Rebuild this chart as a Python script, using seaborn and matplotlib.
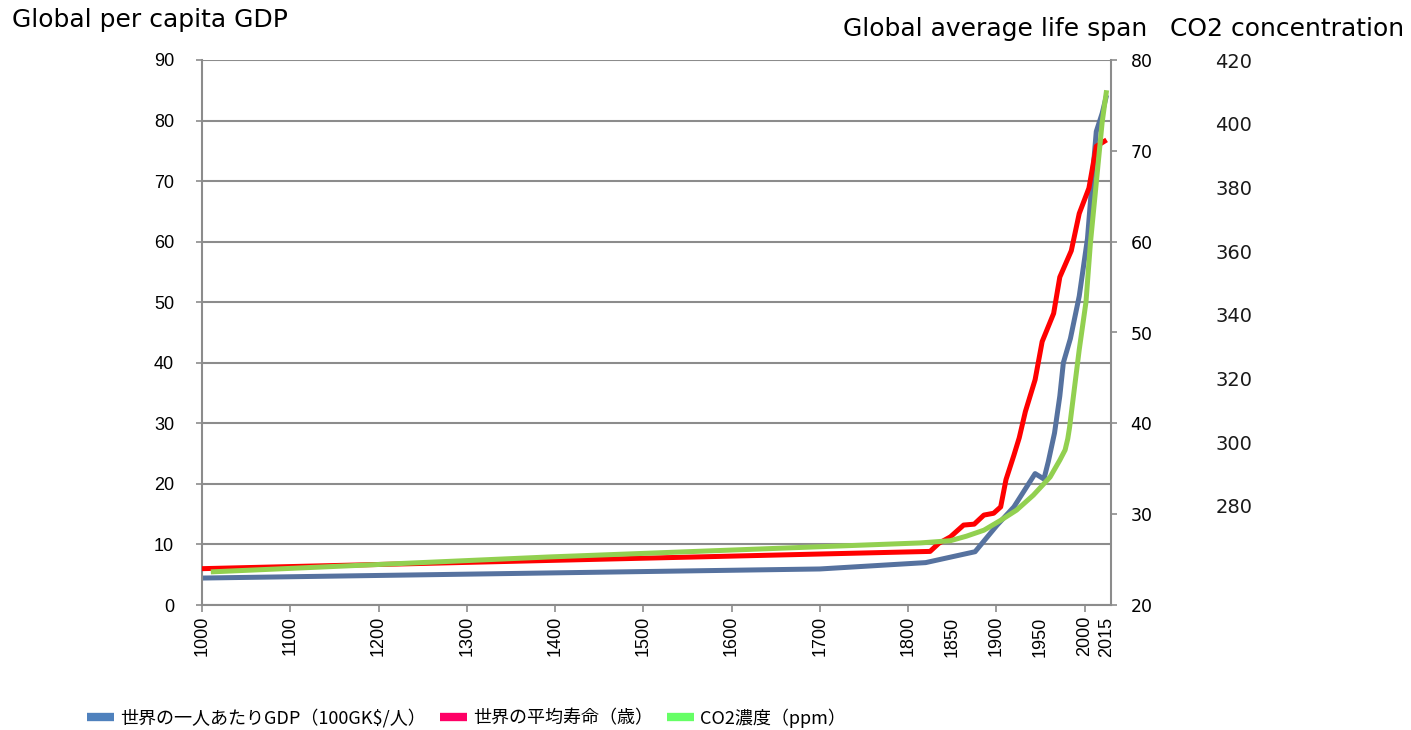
import numpy as np
import pandas as pd
import matplotlib
matplotlib.use("Agg")
import matplotlib.pyplot as plt
from matplotlib.lines import Line2D
import seaborn as sns

# values
gdp_year = [1000, 1700, 1820, 1848, 1876, 1901, 1920, 1944, 1954, 1959, 1966,
            1972, 1976, 1984, 1994, 2002, 2005, 2008, 2012, 2015]
gdp = [4.45, 5.95, 7.0, 7.9, 8.8, 13.2, 16.2, 21.7, 20.8, 23.7, 28.4,
       34.5, 40.0, 44.0, 51.0, 60.5, 69.6, 78.2, 81.2, 84.2]

life_year = [1000, 1825, 1835, 1848, 1863, 1875, 1886, 1897, 1905, 1911, 1920,
             1926, 1933, 1944, 1952, 1965, 1972, 1985, 1994, 2003, 2008, 2015]
life = [24.0, 25.9, 26.8, 27.5, 28.8, 28.9, 29.9, 30.1, 30.8, 33.8, 36.5,
        38.4, 41.3, 44.8, 49.0, 52.1, 56.1, 59.0, 63.1, 65.9, 70.5, 71.2]

co2_year = [1010, 1394, 1814, 1848, 1866, 1886, 1905, 1923, 1942, 1961, 1972,
            1978, 1981, 1983, 1985, 1994, 2001, 2004, 2008, 2012, 2015]
co2 = [259.2, 263.9, 268.3, 269.0, 270.4, 272.3, 275.4, 278.6, 283.3, 289.0, 294.3,
       297.5, 301.0, 304.5, 309.0, 329.0, 344.0, 362.5, 381.5, 400.5, 410.5]

x_major = [1000, 1100, 1200, 1300, 1400, 1500, 1600, 1700, 1800, 1900, 2000]
x_minor = [1850, 1950, 2015]
gdp_ticks = list(range(0, 91, 10))
life_ticks = list(range(20, 81, 10))
co2_ticks = list(range(280, 421, 20))

legend_labels = ["世界の一人あたりGDP（100GK$/人）", "世界の平均寿命（歳）", "CO2濃度（ppm）"]
axis_titles = ["Global per capita GDP", "Global average life span", "CO2 concentration"]

line_colors = ["#56729f", "#ff0000", "#92d050"]
legend_colors = ["#4f81bd", "#ff0066", "#66ff66"]
GRAY = "#8c8c8c"

# the source chart draws the years after 2000 wider than the rest
STRETCH = 5 / 3


def fwd(x):
    x = np.asarray(x, dtype=float)
    return np.where(x <= 2000, x, 2000 + (x - 2000) * STRETCH)


def inv(p):
    p = np.asarray(p, dtype=float)
    return np.where(p <= 2000, p, 2000 + (p - 2000) / STRETCH)


sns.set_theme(style="white")
plt.rcParams['font.family'] = ['DejaVu Sans', 'Noto Sans CJK JP']
plt.rcParams['text.color'] = 'black'

W, H = 1411, 730
fig = plt.figure(figsize=(W / 100, H / 100), dpi=100)
ax = fig.add_axes([202 / W, 125 / H, 909 / W, 545 / H])
ax.set_xscale('function', functions=(fwd, inv))
ax2 = ax.twinx()
ax3 = ax.twinx()

df_gdp = pd.DataFrame({"year": gdp_year, "value": gdp})
df_life = pd.DataFrame({"year": life_year, "value": life})
df_co2 = pd.DataFrame({"year": co2_year, "value": co2})

line_kw = dict(linewidth=3.6, solid_capstyle="butt", solid_joinstyle="round",
               estimator=None, legend=False)
sns.lineplot(data=df_gdp, x="year", y="value", ax=ax, color=line_colors[0], **line_kw)
sns.lineplot(data=df_life, x="year", y="value", ax=ax2, color=line_colors[1], **line_kw)
sns.lineplot(data=df_co2, x="year", y="value", ax=ax3, color=line_colors[2], **line_kw)

for a in (ax, ax2, ax3):
    a.set_xlabel("")
    a.set_ylabel("")

ax.set_xlim(1000, 2018)
ax.set_ylim(0, 90)
ax2.set_ylim(20, 80)
ax3.set_ylim(248.8, 420)

# x axis: tick marks at the centuries, extra labels without marks
ax.set_xticks(x_major)
ax.set_xticklabels([str(y) for y in x_major], rotation=90,
                   fontfamily="Liberation Sans", fontsize=13)
ax.set_xticks(x_minor, minor=True)
ax.set_xticklabels([str(y) for y in x_minor], minor=True, rotation=90,
                   fontfamily="Liberation Sans", fontsize=13)
ax.tick_params(axis="x", which="major", bottom=True, length=5, width=1.2,
               color=GRAY, pad=3, labelcolor="black")
ax.tick_params(axis="x", which="minor", bottom=True, length=0, pad=8.5,
               labelcolor="black")

ax.set_yticks(gdp_ticks)
ax.set_yticklabels([str(v) for v in gdp_ticks], fontfamily="Liberation Sans", fontsize=13)
ax.tick_params(axis="y", left=True, length=4, width=1.2, color=GRAY, pad=16,
               labelcolor="black")
ax.yaxis.grid(True, color=GRAY, linewidth=1.5)
ax.xaxis.grid(False)

ax2.set_yticks(life_ticks)
ax2.set_yticklabels([str(v) for v in life_ticks], fontsize=12.5)
ax2.tick_params(axis="y", right=True, length=4, width=1.2, color=GRAY, pad=10,
                labelcolor="black")

ax3.set_yticks(co2_ticks)
ax3.set_yticklabels([str(v) for v in co2_ticks], fontsize=14)
ax3.tick_params(axis="y", right=True, length=0, pad=75, labelcolor="#1a1a1a")

for name, sp in ax.spines.items():
    sp.set_visible(name in ("left", "bottom"))
    sp.set_color(GRAY)
    sp.set_linewidth(1.5)
for name, sp in ax2.spines.items():
    sp.set_visible(name == "right")
    sp.set_color(GRAY)
    sp.set_linewidth(1.5)
for sp in ax3.spines.values():
    sp.set_visible(False)

fig.text(12 / W, 1 - 27 / H, axis_titles[0], fontsize=18, va="baseline", ha="left")
fig.text(1147 / W, 1 - 36 / H, axis_titles[1], fontsize=18, va="baseline", ha="right")
fig.text(1170 / W, 1 - 36 / H, axis_titles[2], fontsize=18, va="baseline", ha="left")

handles = [Line2D([0], [0], color=c, linewidth=6, solid_capstyle="butt")
           for c in legend_colors]
fig.legend(handles, legend_labels, loc="center left",
           bbox_to_anchor=(87 / W, 1 - 718 / H), ncol=3, frameon=False,
           prop={"family": ["Noto Sans CJK JP", "DejaVu Sans"], "size": 13},
           handlelength=1.5, handletextpad=0.35, columnspacing=0.75,
           borderpad=0, borderaxespad=0)

fig.savefig("out.png", dpi=100)
